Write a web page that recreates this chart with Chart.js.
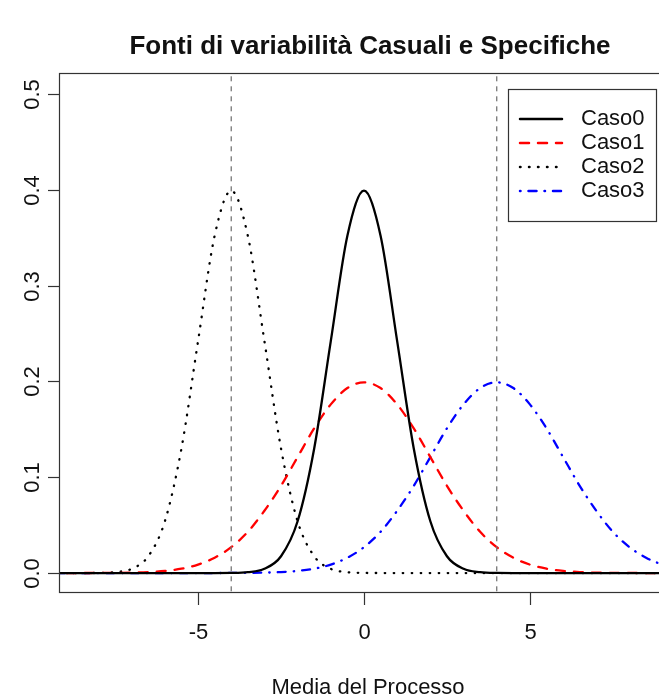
<!DOCTYPE html>
<html><head><meta charset="utf-8">
<script src="https://cdn.jsdelivr.net/npm/chart.js@4.4.1/dist/chart.umd.min.js"></script>
<style>html,body{margin:0;padding:0;background:#fff}#wrap{width:659px;height:698px;position:relative}</style>
</head><body><div id="wrap"><canvas id="c" width="659" height="698"></canvas></div>
<script>
const xs = [-9.5,-9,-8.5,-8,-7.5,-7,-6.5,-6,-5.5,-5,-4.5,-4,-3.5,-3,-2.5,-2,-1.5,-1,-0.5,0,0.5,1,1.5,2,2.5,3,3.5,4,4.5,5,5.5,6,6.5,7,7.5,8,8.5,9,9.5];
const caso0 = [0,0,0,0,0,0,0,0,0,0,0,0.0001,0.0009,0.0044,0.0175,0.054,0.130,0.242,0.352,0.399,0.352,0.242,0.130,0.054,0.0175,0.0044,0.0009,0.0001,0,0,0,0,0,0,0,0,0,0,0];
const caso1 = [0,0,0,0.0001,0.0002,0.0004,0.0010,0.0022,0.0045,0.0088,0.016,0.027,0.043,0.065,0.091,0.121,0.151,0.176,0.193,0.199,0.193,0.176,0.151,0.121,0.091,0.065,0.043,0.027,0.016,0.0088,0.0045,0.0022,0.0010,0.0004,0.0002,0.0001,0,0,0];
const caso2 = [0,0,0,0.0001,0.0009,0.0044,0.0175,0.054,0.130,0.242,0.352,0.399,0.352,0.242,0.130,0.054,0.0175,0.0044,0.0009,0.0001,0,0,0,0,0,0,0,0,0,0,0,0,0,0,0,0,0,0,0];
const caso3 = [0,0,0,0,0,0,0,0,0,0,0,0.0001,0.0002,0.0004,0.0010,0.0022,0.0045,0.0088,0.016,0.027,0.043,0.065,0.091,0.121,0.151,0.176,0.193,0.199,0.193,0.176,0.151,0.121,0.091,0.065,0.043,0.027,0.016,0.0088,0.0045];
const seriesNames = ["Caso0","Caso1","Caso2","Caso3"];
const vLines = [-4, 4];
const xTicks = [-5, 0, 5];
const yTicks = [0.0, 0.1, 0.2, 0.3, 0.4, 0.5];
const yTickLabels = ["0.0","0.1","0.2","0.3","0.4","0.5"];
const titleText = "Fonti di variabilità Casuali e Specifiche";
const xTitle = "Media del Processo";

const styles = [
  {color:"#000000", dash:[]},
  {color:"#ff0000", dash:[9,9]},
  {color:"#000000", dash:[0.5,8.5]},
  {color:"#0000ff", dash:[0.5,8,8,8]}
];
const vals = [caso0, caso1, caso2, caso3];
const datasets = [];
vLines.forEach(v => datasets.push({
  data: [{x:v,y:-1},{x:v,y:1}], borderColor:"#777", borderWidth:1.3, borderDash:[5,5], pointRadius:0, tension:0
}));
vals.forEach((arr,i) => datasets.push({
  label: seriesNames[i],
  data: xs.map((x,j)=>({x:x,y:arr[j]})),
  borderColor: styles[i].color, borderWidth: 2.3, borderDash: styles[i].dash,
  borderCapStyle: 'round',
  pointRadius: 0, cubicInterpolationMode: 'monotone', fill:false
}));

const FONT = '"Liberation Sans", Arial, Helvetica, sans-serif';
const deco = {
  id:'deco',
  afterDraw(chart){
    const ctx = chart.ctx, a = chart.chartArea, xs_ = chart.scales.x, ys_ = chart.scales.y;
    ctx.save();
    ctx.strokeStyle = "#333"; ctx.lineWidth = 1.2; ctx.setLineDash([]);
    ctx.strokeRect(Math.round(a.left)+0.5, Math.round(a.top)+0.5, 800, Math.round(a.bottom-a.top));
    ctx.fillStyle = "#111";
    ctx.font = "22px " + FONT;
    ctx.textAlign = "center"; ctx.textBaseline = "middle";
    xTicks.forEach(t => {
      const px = Math.round(xs_.getPixelForValue(t))+0.5;
      ctx.beginPath(); ctx.moveTo(px, a.bottom); ctx.lineTo(px, a.bottom+13); ctx.stroke();
      ctx.fillText(String(t), px, 633);
    });
    yTicks.forEach((t,i) => {
      const py = Math.round(ys_.getPixelForValue(t))+0.5;
      ctx.beginPath(); ctx.moveTo(a.left, py); ctx.lineTo(a.left-11, py); ctx.stroke();
      ctx.save(); ctx.translate(33, py); ctx.rotate(-Math.PI/2);
      ctx.fillText(yTickLabels[i], 0, 0); ctx.restore();
    });
    ctx.fillText(xTitle, 368, 688);
    ctx.font = "bold 26px " + FONT;
    ctx.fillText(titleText, 370, 47);
    // legend
    ctx.fillStyle = "#fff";
    ctx.fillRect(508, 89, 148, 132);
    ctx.strokeStyle = "#333"; ctx.lineWidth = 1.2;
    ctx.strokeRect(508.5, 89.5, 148, 132);
    ctx.font = "22px " + FONT; ctx.textAlign = "left"; ctx.fillStyle = "#111";
    ctx.lineCap = 'round';
    seriesNames.forEach((n,i) => {
      const y = 119 + i*24;
      ctx.strokeStyle = styles[i].color; ctx.lineWidth = 2.5; ctx.setLineDash(styles[i].dash);
      ctx.beginPath(); ctx.moveTo(520, y); ctx.lineTo(562, y); ctx.stroke();
      ctx.fillText(n, 581, y);
    });
    ctx.restore();
  }
};

new Chart(document.getElementById('c'), {
  type:'line',
  data:{datasets},
  options:{
    responsive:false, animation:false, devicePixelRatio:1,
    layout:{padding:{left:59, top:73, right:0, bottom:106}},
    plugins:{legend:{display:false}, tooltip:{enabled:false}, title:{display:false}},
    scales:{
      x:{type:'linear', min:-9.19, max:8.89, display:false},
      y:{min:-0.0198, max:0.5218, display:false}
    }
  },
  plugins:[deco]
});
</script></body></html>
